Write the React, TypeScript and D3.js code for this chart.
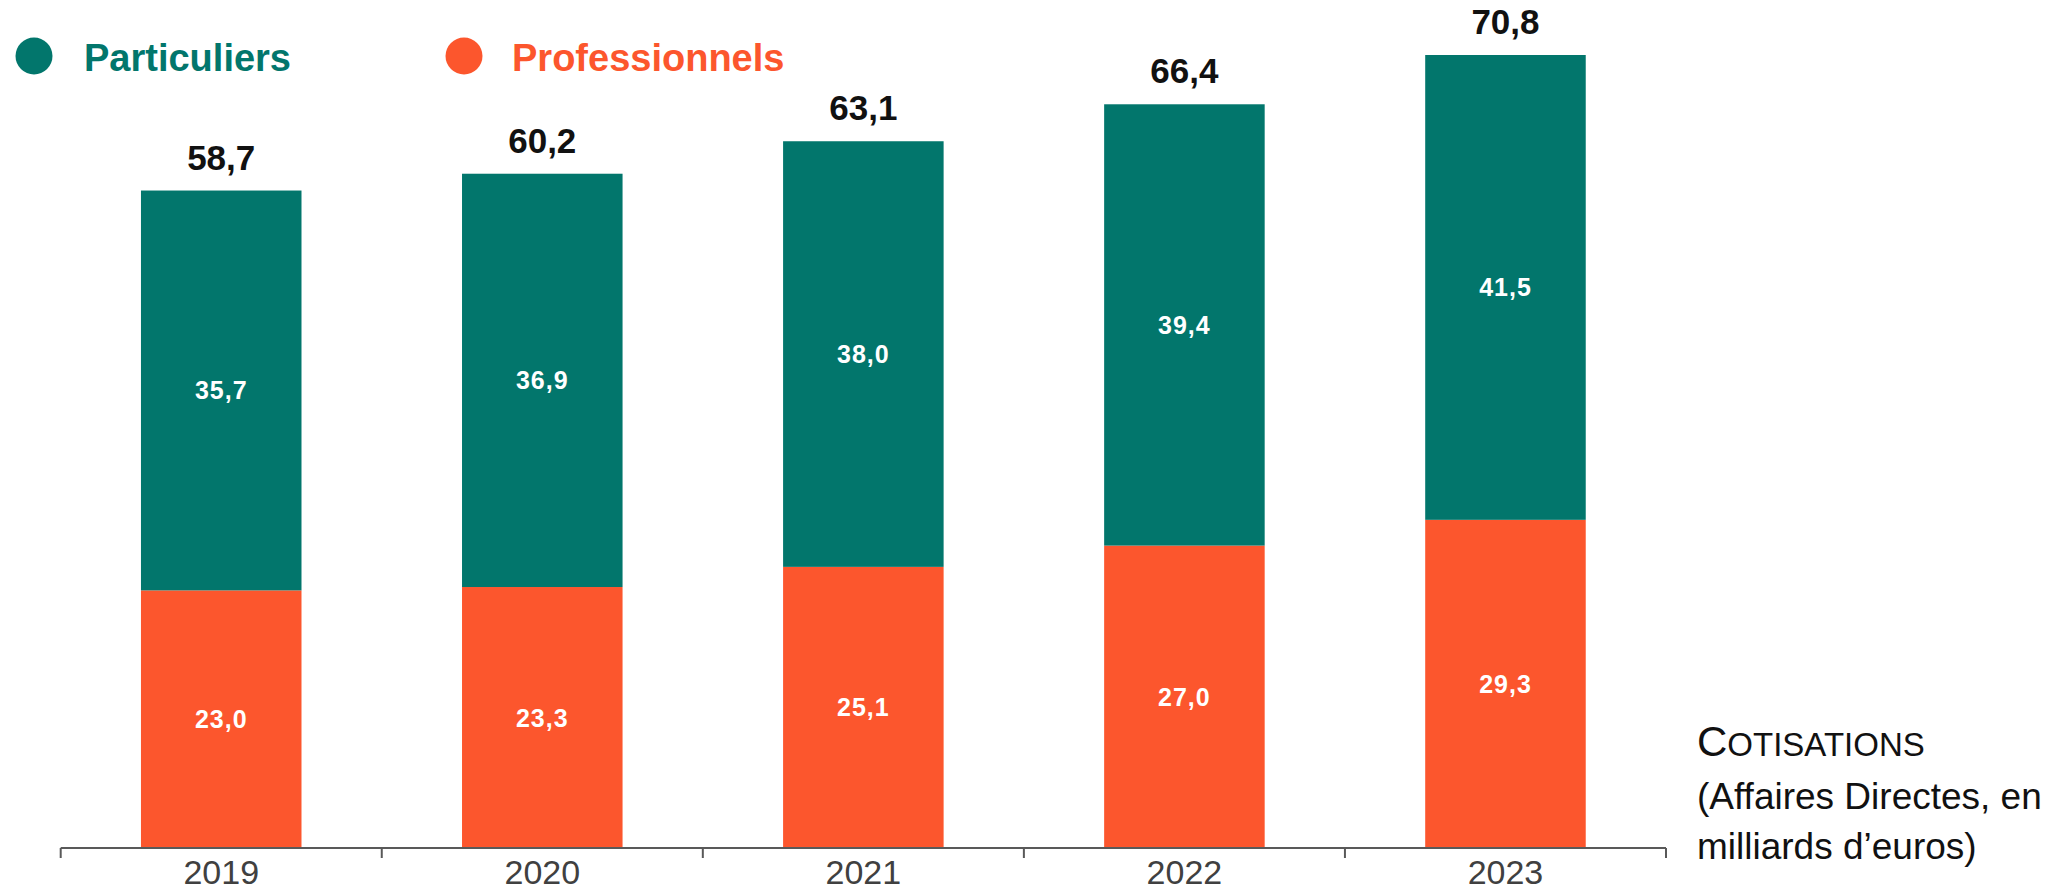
import React from "react";
import * as d3 from "d3";

const years = ["2019", "2020", "2021", "2022", "2023"];
const professionnels = [23.0, 23.3, 25.1, 27.0, 29.3];
const particuliers = [35.7, 36.9, 38.0, 39.4, 41.5];
const totals = [58.7, 60.2, 63.1, 66.4, 70.8];
const seriesNames = ["Particuliers", "Professionnels"];

const TEAL = "#02766c";
const ORANGE = "#fc562d";
const FONT = "'Liberation Sans', Arial, Helvetica, sans-serif";

const fmt = (v: number) => v.toFixed(1).replace(".", ",");

export default function App() {
  const W = 2050;
  const H = 893;
  const x = d3
    .scaleBand<string>()
    .domain(years)
    .range([60.7, 1666])
    .paddingInner(0.5)
    .paddingOuter(0.25);
  const y = d3.scaleLinear().domain([0, 70.8]).range([848, 55]);
  const step = x.step();
  const x0 = 60.7;
  const boundaries = d3.range(years.length + 1).map((i) => x0 + i * step);

  return (
    <svg
      width={W}
      height={H}
      style={{ position: "fixed", left: 0, top: 0, background: "#fff" }}
      fontFamily={FONT}
    >
      <rect width={W} height={H} fill="#fff" />
      {/* Legend */}
      <circle cx={34} cy={56} r={18.5} fill={TEAL} />
      <text x={84} y={71} fontSize={38} fontWeight="bold" fill={TEAL}>
        {seriesNames[0]}
      </text>
      <circle cx={464} cy={56} r={18.5} fill={ORANGE} />
      <text x={512} y={71} fontSize={38} fontWeight="bold" fill={ORANGE}>
        {seriesNames[1]}
      </text>

      {/* Bars */}
      {years.map((yr, i) => {
        const bx = x(yr)!;
        const bw = x.bandwidth();
        const pro = professionnels[i];
        const par = particuliers[i];
        const yPro = y(pro);
        const yTop = y(pro + par);
        return (
          <g key={yr}>
            <rect x={bx} y={yPro} width={bw} height={y(0) - yPro} fill={ORANGE} />
            <rect x={bx} y={yTop} width={bw} height={yPro - yTop} fill={TEAL} />
            <text
              x={bx + bw / 2}
              y={(yPro + y(0)) / 2}
              dominantBaseline="central"
              textAnchor="middle"
              fontSize={25}
              fontWeight="bold"
              fill="#fff"
              letterSpacing={1}
            >
              {fmt(pro)}
            </text>
            <text
              x={bx + bw / 2}
              y={(yTop + yPro) / 2}
              dominantBaseline="central"
              textAnchor="middle"
              fontSize={25}
              fontWeight="bold"
              fill="#fff"
              letterSpacing={1}
            >
              {fmt(par)}
            </text>
            <text
              x={bx + bw / 2}
              y={y(totals[i]) - 21}
              textAnchor="middle"
              fontSize={35}
              fontWeight="bold"
              fill="#111"
            >
              {fmt(totals[i])}
            </text>
            <text
              x={bx + bw / 2}
              y={884}
              textAnchor="middle"
              fontSize={34}
              fill="#404040"
            >
              {yr}
            </text>
          </g>
        );
      })}

      {/* Axis */}
      <line x1={x0} x2={boundaries[boundaries.length - 1]} y1={848} y2={848} stroke="#595959" strokeWidth={2} />
      {boundaries.map((b, i) => (
        <line key={i} x1={b} x2={b} y1={848} y2={858} stroke="#595959" strokeWidth={2} />
      ))}

      {/* Side note */}
      <text x={1697} y={756} fill="#111">
        <tspan fontSize={42}>C</tspan>
        <tspan fontSize={33}>OTISATIONS</tspan>
      </text>
      <text x={1697} y={809} fontSize={37} fill="#111">
        (Affaires Directes, en
      </text>
      <text x={1697} y={859} fontSize={37} fill="#111">
        milliards d’euros)
      </text>
    </svg>
  );
}
